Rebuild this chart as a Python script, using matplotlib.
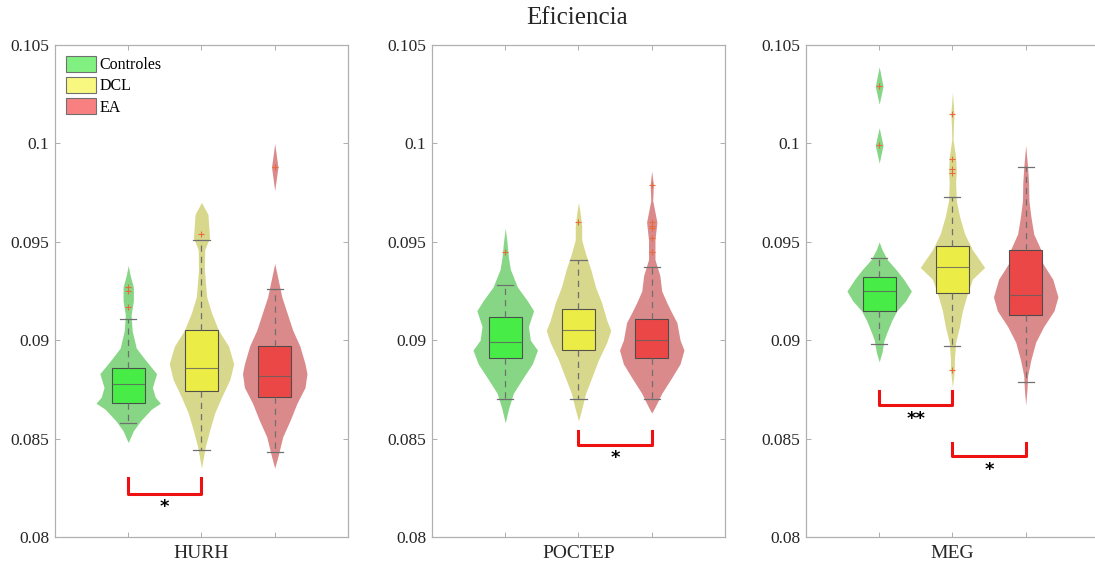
import matplotlib
matplotlib.use('Agg')
import matplotlib.pyplot as plt
from matplotlib.patches import Patch

plt.rcParams['font.family'] = ['Liberation Serif', 'DejaVu Serif']

datasets = ['HURH', 'POCTEP', 'MEG']
groups = ['Controles', 'DCL', 'EA']
yticks = [0.08, 0.085, 0.09, 0.095, 0.1, 0.105]
ytick_labels = ['0.08', '0.085', '0.09', '0.095', '0.1', '0.105']

# violin outlines: value levels and relative half-width
hurh_ctrl_y = [0.0938, 0.0933, 0.0927, 0.0920, 0.0913, 0.0905, 0.0896, 0.0890, 0.0883, 0.0876, 0.0871, 0.0868, 0.0865, 0.0859, 0.0854, 0.0848]
hurh_ctrl_w = [0, .06, .16, .16, .09, .12, .25, .53, .88, .75, .84, 1.0, .72, .38, .16, 0]
hurh_dcl_y = [0.0970, 0.0964, 0.0952, 0.0946, 0.0936, 0.0922, 0.0914, 0.0905, 0.0897, 0.0888, 0.0880, 0.0871, 0.0863, 0.0854, 0.0846, 0.0835]
hurh_dcl_w = [0, .2, .25, .1, .09, .16, .31, .53, .84, 1.0, .88, .62, .41, .25, .12, 0]
hurh_ea_y = [0.1000, 0.0988, 0.0976, 0.0939, 0.0922, 0.0914, 0.0905, 0.0897, 0.0888, 0.0883, 0.0876, 0.0868, 0.0859, 0.0851, 0.0841, 0.0835]
hurh_ea_w = [0, .1, 0, 0, .22, .38, .56, .78, .94, 1.0, .94, .69, .47, .25, .1, 0]

poctep_ctrl_y = [0.0957, 0.0949, 0.0942, 0.0936, 0.0927, 0.0920, 0.0915, 0.0907, 0.0900, 0.0895, 0.0888, 0.0881, 0.0873, 0.0865, 0.0858]
poctep_ctrl_w = [0, .06, .1, .16, .38, .69, .88, .72, .78, 1.0, .84, .56, .25, .1, 0]
poctep_dcl_y = [0.0970, 0.0965, 0.0958, 0.0951, 0.0944, 0.0936, 0.0927, 0.0919, 0.0910, 0.0905, 0.0899, 0.0890, 0.0881, 0.0873, 0.0865, 0.0859]
poctep_dcl_w = [0, .05, .1, .1, .22, .38, .53, .72, .88, 1.0, .88, .62, .41, .22, .1, 0]
poctep_ea_y = [0.0986, 0.0979, 0.0971, 0.0960, 0.0951, 0.0941, 0.0933, 0.0925, 0.0919, 0.0914, 0.0909, 0.0900, 0.0895, 0.0888, 0.0881, 0.0873, 0.0866, 0.0863]
poctep_ea_w = [0, .05, .03, .16, .1, .1, .25, .31, .47, .62, .78, .88, 1.0, .88, .62, .31, .1, 0]

meg_ctrl_y = [0.1039, 0.1029, 0.1020, 0.1008, 0.0999, 0.0990, 0.0950, 0.0946, 0.0941, 0.0936, 0.0931, 0.0925, 0.0920, 0.0915, 0.0910, 0.0904, 0.0900, 0.0894, 0.0889]
meg_ctrl_w = [0, .12, 0, 0, .12, 0, 0, .09, .25, .52, .76, 1.0, .82, .55, .39, .24, .15, .09, 0]
meg_dcl_y = [0.1026, 0.1015, 0.1009, 0.1002, 0.0993, 0.0986, 0.0980, 0.0971, 0.0963, 0.0954, 0.0946, 0.0937, 0.0931, 0.0924, 0.0915, 0.0907, 0.0899, 0.0890, 0.0885, 0.0876]
meg_dcl_w = [0, .05, .03, .02, .1, .12, .1, .12, .22, .38, .62, 1.0, .62, .47, .31, .22, .1, .06, .06, 0]
meg_ea_y = [0.0999, 0.0988, 0.0980, 0.0971, 0.0963, 0.0954, 0.0946, 0.0939, 0.0931, 0.0922, 0.0915, 0.0907, 0.0899, 0.0890, 0.0882, 0.0875, 0.0867]
meg_ea_w = [0, .06, .09, .1, .16, .25, .47, .53, .84, 1.0, .88, .56, .31, .16, .06, .04, 0]

violins = [
    [(hurh_ctrl_y, hurh_ctrl_w), (hurh_dcl_y, hurh_dcl_w), (hurh_ea_y, hurh_ea_w)],
    [(poctep_ctrl_y, poctep_ctrl_w), (poctep_dcl_y, poctep_dcl_w), (poctep_ea_y, poctep_ea_w)],
    [(meg_ctrl_y, meg_ctrl_w), (meg_dcl_y, meg_dcl_w), (meg_ea_y, meg_ea_w)],
]

# box plot statistics per dataset (Controles, DCL, EA)
whislo = [[0.0858, 0.0844, 0.0843], [0.0870, 0.0870, 0.0870], [0.0898, 0.0897, 0.0879]]
q1 = [[0.0868, 0.0874, 0.0871], [0.0891, 0.0895, 0.0891], [0.0915, 0.0924, 0.0913]]
med = [[0.0878, 0.0886, 0.0882], [0.0899, 0.0905, 0.0900], [0.0925, 0.0937, 0.0923]]
q3 = [[0.0886, 0.0905, 0.0897], [0.0912, 0.0916, 0.0911], [0.0932, 0.0948, 0.0946]]
whishi = [[0.0911, 0.0951, 0.0926], [0.0928, 0.0941, 0.0937], [0.0942, 0.0973, 0.0988]]
fliers = [
    [[0.0917, 0.0925, 0.0927], [0.0954], [0.0988]],
    [[0.0945], [0.0960], [0.0945, 0.0952, 0.0957, 0.0958, 0.0960, 0.0979]],
    [[0.0999, 0.1029], [0.0885, 0.0985, 0.0987, 0.0992, 0.1015], []],
]

# significance brackets
sig_panel = [0, 1, 2, 2]
sig_x1 = [1, 2, 1, 2]
sig_x2 = [2, 3, 2, 3]
sig_top = [0.0830, 0.0854, 0.0874, 0.0848]
sig_low = [0.0822, 0.0847, 0.0867, 0.0841]
sig_text = ['*', '*', '**', '*']

violin_colors = ['#86d686', '#d8d88c', '#da8a8a']
box_colors = ['#44ee44', '#eeee44', '#ee4444']
legend_colors = ['#80f080', '#f8f880', '#f88080']

fig = plt.figure(figsize=(10.95, 5.68), dpi=100)
lefts = [0.0502, 0.3945, 0.736]
axes = [fig.add_axes([l, 0.0546, 0.2676, 0.866]) for l in lefts]

for p, ax in enumerate(axes):
    for g in range(3):
        vy, vw = violins[p][g]
        x = g + 1
        ax.fill_betweenx(vy, [x - 0.44 * w for w in vw], [x + 0.44 * w for w in vw],
                         color=violin_colors[g], lw=0, zorder=1)
    stats = []
    for g in range(3):
        stats.append(dict(whislo=whislo[p][g], q1=q1[p][g], med=med[p][g],
                          q3=q3[p][g], whishi=whishi[p][g], fliers=fliers[p][g]))
    bp = ax.bxp(stats, positions=[1, 2, 3], widths=0.45, capwidths=0.22,
                patch_artist=True, manage_ticks=False,
                boxprops=dict(edgecolor='#4a4a4a', lw=0.8),
                medianprops=dict(color='#606060', lw=0.8, alpha=0.8),
                whiskerprops=dict(color='#707070', lw=0.9, ls=(0, (5, 4))),
                capprops=dict(color='#707070', lw=0.9),
                flierprops=dict(marker='+', markeredgecolor='#e86a3a', markersize=4, mew=0.8))
    for patch, c in zip(bp['boxes'], box_colors):
        patch.set_facecolor(c)
        patch.set_alpha(0.95)
        patch.set_zorder(2)

    ax.set_xlim(0, 4)
    ax.set_ylim(0.08, 0.105)
    ax.set_xticks([1, 2, 3])
    ax.set_xticklabels(['', datasets[p], ''], fontsize=14, color='#262626')
    ax.set_yticks(yticks)
    ax.set_yticklabels(ytick_labels, fontsize=12.5, color='#262626')
    ax.tick_params(direction='in', length=3.5, width=0.6, color='#a0a0a0',
                   top=True, right=True, pad=4)
    ax.tick_params(axis='x', pad=6)
    for s in ax.spines.values():
        s.set_color('#b0b0b0')
        s.set_linewidth(0.9)

# the last panel runs past the right edge of the picture
axes[2].spines['right'].set_visible(False)
axes[2].tick_params(right=False)

for k in range(len(sig_panel)):
    ax = axes[sig_panel[k]]
    ax.plot([sig_x1[k], sig_x1[k], sig_x2[k], sig_x2[k]],
            [sig_top[k], sig_low[k], sig_low[k], sig_top[k]],
            color='#ee1111', lw=2.2, solid_joinstyle='round', zorder=3)
    ax.text((sig_x1[k] + sig_x2[k]) / 2, sig_low[k] - 0.0007, sig_text[k],
            ha='center', va='center', fontsize=13, fontweight='bold',
            family='DejaVu Sans', color='black')

handles = [Patch(facecolor=c, edgecolor='#707070', lw=0.8) for c in legend_colors]
axes[0].legend(handles, groups, loc='upper left', frameon=False, fontsize=11.5,
               handlelength=1.9, handleheight=1.1, handletextpad=0.2,
               labelspacing=0.25, borderaxespad=0.3, bbox_to_anchor=(0.0, 1.0))

fig.text(0.527, 0.968, 'Eficiencia', ha='center', va='center', fontsize=18,
         color='#262626')

fig.savefig('out.png', dpi=100)
